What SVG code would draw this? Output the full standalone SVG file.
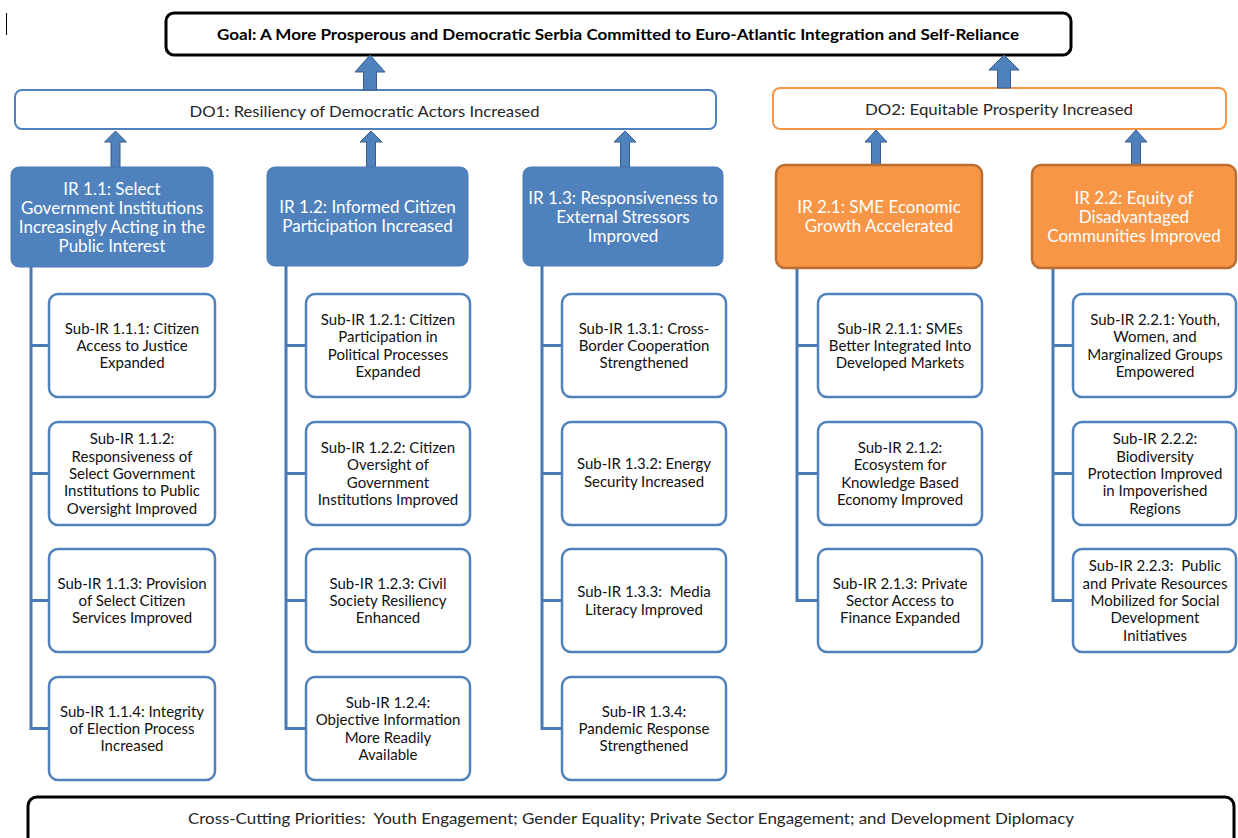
<svg xmlns="http://www.w3.org/2000/svg" width="1238" height="838" viewBox="0 0 1238 838">
<style>
.t{font-family:Lato,"Open Sans","Liberation Sans",sans-serif;text-anchor:middle}
.goal{font-size:16px;font-weight:bold;fill:#000}
.do{font-size:16px;fill:#262626}
.ir{font-size:17px;fill:#fff}
.sub{font-size:15px;fill:#111}
.pre{white-space:pre}
.bx{fill:#fff;stroke:#4F81BD;stroke-width:2.5}
.irb{fill:#4F81BD;stroke:#4A7BB6;stroke-width:1}
.iro{fill:#F79646;stroke:#B96E34;stroke-width:2.5}
.arr{fill:#4F81BD;stroke:#385D8A;stroke-width:1}
.con{fill:none;stroke:#4A7AB5;stroke-width:3}
</style>
<line x1="6.5" y1="13" x2="6.5" y2="35" stroke="#000" stroke-width="1"/>

<g id="goal">
<rect x="166" y="13" width="905" height="42" rx="8" fill="#fff" stroke="#000" stroke-width="3"/>
<text class="t goal" x="618" y="39.5" textLength="802" lengthAdjust="spacingAndGlyphs">Goal: A More Prosperous and Democratic Serbia Committed to Euro-Atlantic Integration and Self-Reliance</text>
</g>

<g id="do1">
<rect x="15" y="90" width="701" height="39" rx="7" fill="#fff" stroke="#4F81BD" stroke-width="2"/>
<text class="t do" x="364.5" y="116.5" textLength="350" lengthAdjust="spacingAndGlyphs">DO1: Resiliency of Democratic Actors Increased</text>
</g>
<g id="do2">
<rect x="773" y="88" width="453" height="41" rx="7" fill="#fff" stroke="#F79646" stroke-width="2"/>
<text class="t do" x="999" y="115" textLength="268" lengthAdjust="spacingAndGlyphs">DO2: Equitable Prosperity Increased</text>
</g>

<g id="arrows">
<polygon class="arr" points="370,55 385,72 376.5,72 376.5,90 363.5,90 363.5,72 355,72"/>
<polygon class="arr" points="1004,55 1019,70 1010.5,70 1010.5,88 997.5,88 997.5,70 989,70"/>
<polygon class="arr" points="115.5,131 126.5,142 120,142 120,167 111,167 111,142 104.5,142"/>
<polygon class="arr" points="371,131 382,142 375.5,142 375.5,167 366.5,167 366.5,142 360,142"/>
<polygon class="arr" points="625,131 636,142 629.5,142 629.5,167 620.5,167 620.5,142 614,142"/>
<polygon class="arr" points="876,130 887,142 880.5,142 880.5,165 871.5,165 871.5,142 865,142"/>
<polygon class="arr" points="1136,130 1147,142 1140.5,142 1140.5,165 1131.5,165 1131.5,142 1125,142"/>
</g>

<g id="connectors">
<path class="con" d="M31,267 V728.5 H49 M31,345.5 H49 M31,473.5 H49 M31,600.5 H49"/>
<path class="con" d="M286,266 V728.5 H306 M286,345.5 H306 M286,473.5 H306 M286,600.5 H306"/>
<path class="con" d="M542,266 V728.5 H562 M542,345.5 H562 M542,473.5 H562 M542,600.5 H562"/>
<path class="con" d="M797,268 V600.5 H818 M797,345.5 H818 M797,473.5 H818"/>
<path class="con" d="M1053,268 V600.5 H1073 M1053,345.5 H1073 M1053,473.5 H1073"/>
</g>

<g id="ir11">
<rect class="irb" x="11" y="167" width="202" height="100" rx="8"/>
<text class="t ir" x="112" y="194.5"><tspan x="112">IR 1.1: Select</tspan><tspan x="112" dy="19">Government Institutions</tspan><tspan x="112" dy="19">Increasingly Acting in the</tspan><tspan x="112" dy="19">Public Interest</tspan></text>
</g>
<g id="ir12">
<rect class="irb" x="267" y="167" width="201" height="99" rx="8"/>
<text class="t ir" x="367.5" y="213"><tspan x="367.5">IR 1.2: Informed Citizen</tspan><tspan x="367.5" dy="19">Participation Increased</tspan></text>
</g>
<g id="ir13">
<rect class="irb" x="523" y="167" width="200" height="99" rx="8"/>
<text class="t ir" x="623" y="203.5"><tspan x="623">IR 1.3: Responsiveness to</tspan><tspan x="623" dy="19">External Stressors</tspan><tspan x="623" dy="19">Improved</tspan></text>
</g>
<g id="ir21">
<rect class="iro" x="776" y="165" width="206" height="103" rx="9"/>
<text class="t ir" x="879" y="213"><tspan x="879">IR 2.1: SME Economic</tspan><tspan x="879" dy="19">Growth Accelerated</tspan></text>
</g>
<g id="ir22">
<rect class="iro" x="1032" y="165" width="204" height="103" rx="9"/>
<text class="t ir" x="1134" y="203.5"><tspan x="1134">IR 2.2: Equity of</tspan><tspan x="1134" dy="19">Disadvantaged</tspan><tspan x="1134" dy="19">Communities Improved</tspan></text>
</g>

<g id="sub111"><rect class="bx" x="49" y="294" width="166" height="103" rx="9"/>
<text class="t sub" x="132" y="333.6"><tspan x="132">Sub-IR 1.1.1: Citizen</tspan><tspan x="132" dy="17.3">Access to Justice</tspan><tspan x="132" dy="17.3">Expanded</tspan></text></g>
<g id="sub112"><rect class="bx" x="49" y="422" width="166" height="103" rx="9"/>
<text class="t sub" x="132" y="444.3"><tspan x="132">Sub-IR 1.1.2:</tspan><tspan x="132" dy="17.3">Responsiveness of</tspan><tspan x="132" dy="17.3">Select Government</tspan><tspan x="132" dy="17.3">Institutions to Public</tspan><tspan x="132" dy="17.3">Oversight Improved</tspan></text></g>
<g id="sub113"><rect class="bx" x="49" y="549" width="166" height="103" rx="9"/>
<text class="t sub" x="132" y="588.6"><tspan x="132">Sub-IR 1.1.3: Provision</tspan><tspan x="132" dy="17.3">of Select Citizen</tspan><tspan x="132" dy="17.3">Services Improved</tspan></text></g>
<g id="sub114"><rect class="bx" x="49" y="677" width="166" height="103" rx="9"/>
<text class="t sub" x="132" y="716.6"><tspan x="132">Sub-IR 1.1.4: Integrity</tspan><tspan x="132" dy="17.3">of Election Process</tspan><tspan x="132" dy="17.3">Increased</tspan></text></g>

<g id="sub121"><rect class="bx" x="306" y="294" width="164" height="103" rx="9"/>
<text class="t sub" x="388" y="324.95"><tspan x="388">Sub-IR 1.2.1: Citizen</tspan><tspan x="388" dy="17.3">Participation in</tspan><tspan x="388" dy="17.3">Political Processes</tspan><tspan x="388" dy="17.3">Expanded</tspan></text></g>
<g id="sub122"><rect class="bx" x="306" y="422" width="164" height="103" rx="9"/>
<text class="t sub" x="388" y="452.95"><tspan x="388">Sub-IR 1.2.2: Citizen</tspan><tspan x="388" dy="17.3">Oversight of</tspan><tspan x="388" dy="17.3">Government</tspan><tspan x="388" dy="17.3">Institutions Improved</tspan></text></g>
<g id="sub123"><rect class="bx" x="306" y="549" width="164" height="103" rx="9"/>
<text class="t sub" x="388" y="588.6"><tspan x="388">Sub-IR 1.2.3: Civil</tspan><tspan x="388" dy="17.3">Society Resiliency</tspan><tspan x="388" dy="17.3">Enhanced</tspan></text></g>
<g id="sub124"><rect class="bx" x="306" y="677" width="164" height="103" rx="9"/>
<text class="t sub" x="388" y="707.95"><tspan x="388">Sub-IR 1.2.4:</tspan><tspan x="388" dy="17.3">Objective Information</tspan><tspan x="388" dy="17.3">More Readily</tspan><tspan x="388" dy="17.3">Available</tspan></text></g>

<g id="sub131"><rect class="bx" x="562" y="294" width="164" height="103" rx="9"/>
<text class="t sub" x="644" y="333.6"><tspan x="644">Sub-IR 1.3.1: Cross-</tspan><tspan x="644" dy="17.3">Border Cooperation</tspan><tspan x="644" dy="17.3">Strengthened</tspan></text></g>
<g id="sub132"><rect class="bx" x="562" y="422" width="164" height="103" rx="9"/>
<text class="t sub" x="644" y="469.25"><tspan x="644">Sub-IR 1.3.2: Energy</tspan><tspan x="644" dy="17.3">Security Increased</tspan></text></g>
<g id="sub133"><rect class="bx" x="562" y="549" width="164" height="103" rx="9"/>
<text class="t sub pre" x="644" y="597.25"><tspan x="644">Sub-IR 1.3.3:  Media</tspan><tspan x="644" dy="17.3">Literacy Improved</tspan></text></g>
<g id="sub134"><rect class="bx" x="562" y="677" width="164" height="103" rx="9"/>
<text class="t sub" x="644" y="716.6"><tspan x="644">Sub-IR 1.3.4:</tspan><tspan x="644" dy="17.3">Pandemic Response</tspan><tspan x="644" dy="17.3">Strengthened</tspan></text></g>

<g id="sub211"><rect class="bx" x="818" y="294" width="164" height="103" rx="9"/>
<text class="t sub" x="900" y="333.6"><tspan x="900">Sub-IR 2.1.1: SMEs</tspan><tspan x="900" dy="17.3">Better Integrated Into</tspan><tspan x="900" dy="17.3">Developed Markets</tspan></text></g>
<g id="sub212"><rect class="bx" x="818" y="422" width="164" height="103" rx="9"/>
<text class="t sub" x="900" y="452.95"><tspan x="900">Sub-IR 2.1.2:</tspan><tspan x="900" dy="17.3">Ecosystem for</tspan><tspan x="900" dy="17.3">Knowledge Based</tspan><tspan x="900" dy="17.3">Economy Improved</tspan></text></g>
<g id="sub213"><rect class="bx" x="818" y="549" width="164" height="103" rx="9"/>
<text class="t sub" x="900" y="588.6"><tspan x="900">Sub-IR 2.1.3: Private</tspan><tspan x="900" dy="17.3">Sector Access to</tspan><tspan x="900" dy="17.3">Finance Expanded</tspan></text></g>

<g id="sub221"><rect class="bx" x="1073" y="294" width="163" height="103" rx="9"/>
<text class="t sub" x="1155" y="324.95"><tspan x="1155">Sub-IR 2.2.1: Youth,</tspan><tspan x="1155" dy="17.3">Women, and</tspan><tspan x="1155" dy="17.3">Marginalized Groups</tspan><tspan x="1155" dy="17.3">Empowered</tspan></text></g>
<g id="sub222"><rect class="bx" x="1073" y="422" width="163" height="103" rx="9"/>
<text class="t sub" x="1155" y="444.3"><tspan x="1155">Sub-IR 2.2.2:</tspan><tspan x="1155" dy="17.3">Biodiversity</tspan><tspan x="1155" dy="17.3">Protection Improved</tspan><tspan x="1155" dy="17.3">in Impoverished</tspan><tspan x="1155" dy="17.3">Regions</tspan></text></g>
<g id="sub223"><rect class="bx" x="1073" y="549" width="163" height="103" rx="9"/>
<text class="t sub pre" x="1155" y="571.3"><tspan x="1155">Sub-IR 2.2.3:  Public</tspan><tspan x="1155" dy="17.3">and Private Resources</tspan><tspan x="1155" dy="17.3">Mobilized for Social</tspan><tspan x="1155" dy="17.3">Development</tspan><tspan x="1155" dy="17.3">Initiatives</tspan></text></g>

<g id="crosscutting">
<rect x="28" y="797" width="1206" height="60" rx="9" fill="#fff" stroke="#000" stroke-width="3"/>
<text class="t do pre" x="631" y="823.5" textLength="886" lengthAdjust="spacingAndGlyphs">Cross-Cutting Priorities:  Youth Engagement; Gender Equality; Private Sector Engagement; and Development Diplomacy</text>
</g>
</svg>
